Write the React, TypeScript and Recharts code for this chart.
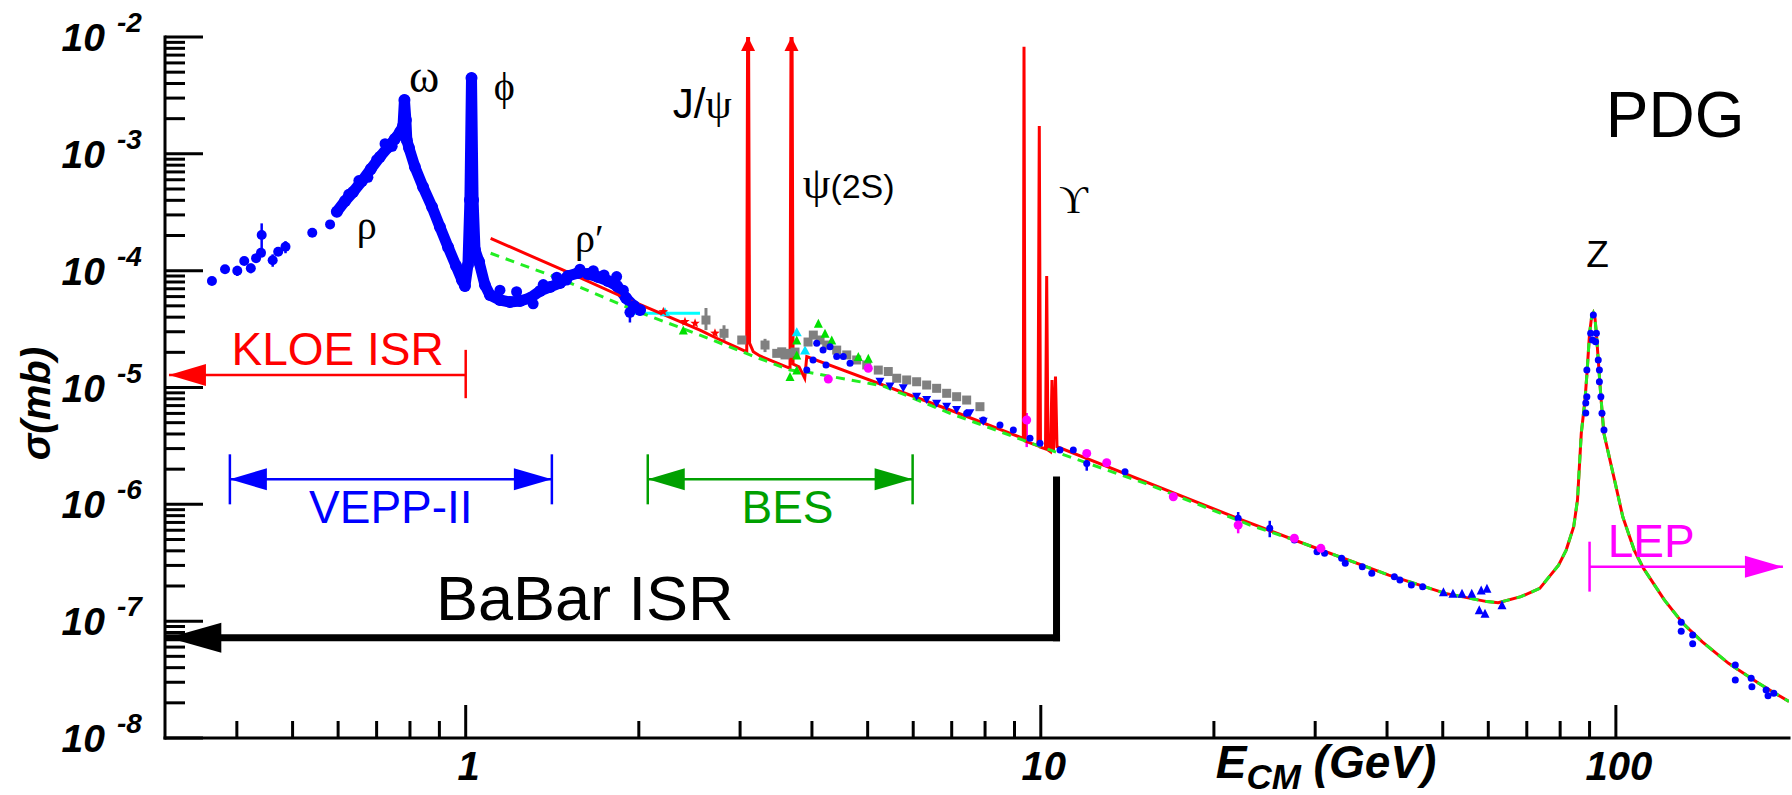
import React from 'react';
import {
  ComposedChart,
  Line,
  Scatter,
  XAxis,
  YAxis,
  ReferenceLine,
  ReferenceDot,
  ErrorBar,
} from 'recharts';

// ---------------------------------------------------------------------------
// Axes
// ---------------------------------------------------------------------------
const CHART_W = 1792;
const CHART_H = 795;

const E_DOMAIN: [number, number] = [0.3, 200]; // GeV
const SIGMA_DOMAIN: [number, number] = [1e-8, 1e-2]; // mb

const X_TICKS = [
  0.4, 0.5, 0.6, 0.7, 0.8, 0.9, 1, 2, 3, 4, 5, 6, 7, 8, 9, 10, 20, 30, 40, 50, 60, 70, 80, 90, 100,
];
const X_TICK_LABELS: Record<string, string> = { '1': '1', '10': '10', '100': '100' };
const Y_DECADES = [-8, -7, -6, -5, -4, -3];
const Y_MANTISSAS = [1, 2, 3, 4, 5, 6, 7, 8, 9];
const Y_TOP = 1e-2;
const Y_TICKS = [...Y_DECADES.flatMap((d) => Y_MANTISSAS.map((m) => m * Math.pow(10, d))), Y_TOP];

// ---------------------------------------------------------------------------
// Data: [E (GeV), sigma (mb), err-, err+]
// ---------------------------------------------------------------------------
type Row = number[];

// rho / omega / phi / rho' region (dense hadronic data)
const LOW_E_BAND: Row[] = [
  [0.597, 3.2e-4], [0.617, 3.95e-4], [0.637, 4.71e-4], [0.66, 5.85e-4], [0.684, 7.42e-4],
  [0.709, 9.4e-4], [0.733, 1.14e-3], [0.753, 1.34e-3], [0.769, 1.54e-3], [0.778, 1.73e-3],
  [0.7825, 2.89e-3], [0.787, 1.95e-3], [0.79, 1.31e-3], [0.797, 1.12e-3],
  [0.816, 7.72e-4], [0.843, 5.2e-4], [0.874, 3.51e-4], [0.902, 2.36e-4], [0.932, 1.59e-4],
  [0.962, 1.1e-4], [0.985, 8.32e-5], [0.997, 7.39e-5],
  [1.009, 1.12e-4], [1.017, 4.02e-4], [1.0235, 4.46e-3], [1.03, 4.02e-4], [1.038, 1.5e-4],
  [1.055, 1.19e-4], [1.08, 7.54e-5], [1.102, 6.19e-5],
  [1.147, 5.61e-5], [1.194, 5.39e-5], [1.243, 5.5e-5], [1.294, 5.83e-5], [1.347, 6.7e-5],
  [1.402, 7.25e-5], [1.459, 7.84e-5], [1.506, 9.0e-5], [1.568, 9.55e-5], [1.632, 9.36e-5],
  [1.699, 8.82e-5], [1.768, 8.16e-5], [1.833, 7.39e-5], [1.9, 5.83e-5], [1.962, 4.98e-5],
  [2.01, 4.61e-5],
];

// scattered measurements along the edges of the dense band
const LOW_E_SCATTER: Row[] = [
  [0.626, 4.5e-4], [0.652, 5.9e-4], [0.676, 6.3e-4], [0.7, 8.9e-4], [0.724, 1.22e-3],
  [0.745, 1.16e-3], [1.147, 6.8e-5], [1.226, 6.6e-5], [1.31, 5.2e-5], [1.364, 7.6e-5],
  [1.44, 8.8e-5], [1.498, 8.3e-5], [1.58, 1.03e-4], [1.667, 1.0e-4], [1.74, 9.2e-5],
  [1.83, 8.9e-5], [1.88, 6.8e-5], [1.93, 4.4e-5, 8e-6, 6e-6],
];

// isolated low-energy points
const LOW_E_POINTS: Row[] = [
  [0.362, 8.16e-5, 6e-6], [0.3815, 1.03e-4], [0.4007, 1.0e-4, 1.0e-5], [0.412, 1.21e-4],
  [0.423, 1.05e-4, 1.0e-5], [0.432, 1.28e-4], [0.4406, 1.42e-4], [0.4418, 2.02e-4, 6.0e-5, 5.2e-5],
  [0.4617, 1.23e-4, 1.5e-5], [0.472, 1.45e-4], [0.486, 1.6e-4, 1.9e-5], [0.541, 2.11e-4],
  [0.581, 2.49e-4],
];

// QCD expectation with narrow resonances (solid)
const RED_CURVE: Row[] = [
  [1.105, 1.89e-4], [1.478, 1.01e-4], [1.956, 5.42e-5], [2.555, 3.1e-5], [2.732, 2.64e-5],
  [3.081, 2.02e-5], [3.097, 3e-1], [3.116, 2.4e-5], [3.163, 2.02e-5], [3.249, 1.86e-5],
  [3.664, 1.46e-5], [3.686, 3e-1], [3.709, 1.59e-5], [3.799, 1.5e-5], [3.886, 1.2e-5],
  [3.918, 1.84e-5], [6.953, 6.42e-6], [9.324, 3.67e-6], [9.35, 8.26e-3], [9.387, 3.48e-6],
  [9.888, 3.16e-6], [9.94, 1.73e-3], [9.988, 3.09e-6], [10.19, 2.98e-6], [10.239, 9.0e-5],
  [10.292, 2.92e-6], [10.396, 2.82e-6], [10.459, 1.16e-5], [10.522, 2.92e-6], [10.606, 1.24e-5],
  [10.67, 3.11e-6], [22.0, 7.59e-7], [27.6, 4.95e-7], [40.28, 2.48e-7], [50.52, 1.73e-7],
  [59.67, 1.47e-7], [62.43, 1.44e-7], [68.37, 1.62e-7], [73.74, 1.91e-7], [79.5, 3.02e-7],
  [81.95, 4.06e-7], [84.46, 6.43e-7], [85.75, 1.09e-6], [87.06, 4.05e-6], [88.36, 7.81e-6],
  [89.07, 1.32e-5], [90.0, 2.91e-5], [90.69, 3.93e-5], [91.38, 4.32e-5], [91.96, 3.93e-5],
  [92.49, 2.91e-5], [93.19, 1.72e-5], [94.17, 8.34e-6], [95.31, 4.05e-6], [99.76, 1.51e-6],
  [102.8, 7.83e-7], [107.6, 4.06e-7], [111.7, 2.83e-7], [121.4, 1.52e-7], [130.9, 9.53e-8],
  [141.2, 6.68e-8], [157.0, 4.36e-8], [177.1, 2.94e-8], [200, 2.05e-8],
];

// naive quark-parton model (dashed)
const GREEN_CURVE: Row[] = [
  [1.105, 1.41e-4], [1.478, 8.32e-5], [1.956, 4.61e-5], [2.555, 2.81e-5], [3.122, 1.9e-5],
  [3.664, 1.41e-5], [3.906, 1.36e-5], [5.322, 1.03e-5], [6.953, 6.01e-6], [10.375, 2.92e-6],
  [15.48, 1.46e-6], [23.11, 6.65e-7], [27.6, 4.95e-7], [40.28, 2.48e-7], [50.52, 1.73e-7],
  [59.67, 1.47e-7], [62.43, 1.44e-7], [68.37, 1.62e-7], [73.74, 1.91e-7], [79.5, 3.02e-7],
  [81.95, 4.06e-7], [84.46, 6.43e-7], [85.75, 1.09e-6], [87.06, 4.05e-6], [88.36, 7.81e-6],
  [89.07, 1.32e-5], [90.0, 2.91e-5], [90.69, 3.93e-5], [91.38, 4.32e-5], [91.96, 3.93e-5],
  [92.49, 2.91e-5], [93.19, 1.72e-5], [94.17, 8.34e-6], [95.31, 4.05e-6], [99.76, 1.51e-6],
  [102.8, 7.83e-7], [107.6, 4.06e-7], [111.7, 2.83e-7], [121.4, 1.52e-7], [130.9, 9.53e-8],
  [141.2, 6.68e-8], [157.0, 4.36e-8], [177.1, 2.94e-8], [200, 2.05e-8],
];

const GRAY_MARKS: Row[] = [
  [2.617, 3.78e-5, 6.8e-6, 1.01e-5], [2.813, 2.91e-5, 4e-6, 5e-6], [3.02, 2.55e-5],
  [3.315, 2.31e-5, 3e-6, 3e-6], [3.474, 1.96e-5], [3.544, 2.02e-5], [3.591, 1.9e-5],
  [3.639, 1.96e-5], [3.738, 2.01e-5], [3.938, 2.45e-5], [4.022, 2.81e-5], [4.132, 2.55e-5],
  [4.244, 2.31e-5], [4.417, 2.09e-5], [4.598, 1.9e-5], [4.785, 1.72e-5], [4.981, 1.56e-5],
  [5.217, 1.41e-5], [5.43, 1.37e-5], [5.616, 1.2e-5], [5.845, 1.16e-5], [6.083, 1.12e-5],
  [6.332, 1.05e-5], [6.59, 9.84e-6], [6.86, 8.92e-6], [7.139, 8.34e-6], [7.432, 7.81e-6],
  [7.838, 6.85e-6],
];

const CYAN_LINE: Row[] = [[1.954, 4.32e-5], [2.555, 4.32e-5]];
const CYAN_MARKS: Row[] = [[2.221, 4.45e-5], [3.764, 3.0e-5], [3.891, 2.09e-5]];

const RED_STARS: Row[] = [[2.206, 4.45e-5], [2.406, 3.66e-5], [2.505, 3.54e-5], [2.713, 2.91e-5]];

const GREEN_MARKS: Row[] = [
  [2.39, 3.1e-5], [3.664, 1.24e-5], [3.764, 2.55e-5], [3.764, 1.9e-5], [3.764, 1.41e-5],
  [4.104, 3.54e-5], [4.215, 2.91e-5], [4.33, 2.55e-5], [4.816, 1.84e-5], [5.013, 1.78e-5],
];

const BLUE_TRI_DOWN: Row[] = [
  [5.252, 1.12e-5], [5.467, 1.02e-5], [5.766, 9.84e-6], [6.083, 8.34e-6], [6.332, 7.81e-6],
  [6.59, 7.27e-6], [6.86, 6.85e-6], [7.139, 6.42e-6], [7.53, 6.01e-6], [7.943, 5.09e-6],
];

const BLUE_TRI_UP: Row[] = [
  [50.13, 1.79e-7], [52.08, 1.73e-7], [54.0, 1.73e-7], [56.16, 1.73e-7], [58.32, 1.85e-7],
  [59.67, 1.91e-7], [57.87, 1.25e-7], [59.21, 1.17e-7], [63.38, 1.38e-7],
];

const BLUE_POINTS: Row[] = [
  [3.918, 1.41e-5], [4.018, 1.72e-5], [4.077, 2.39e-5], [4.182, 2.09e-5], [4.232, 1.56e-5],
  [4.3, 2.23e-5], [4.417, 1.84e-5], [4.535, 1.84e-5], [4.659, 1.61e-5],
  [7.432, 6.01e-6], [7.943, 5.27e-6], [8.493, 4.77e-6], [8.959, 4.33e-6], [9.577, 3.67e-6],
  [9.968, 3.33e-6], [10.8, 2.92e-6], [11.39, 2.92e-6], [12.02, 2.24e-6, 3e-7], [14.01, 1.9e-6],
  [22.04, 7.59e-7, 1e-7], [25.01, 6.23e-7, 1e-7], [27.6, 4.95e-7], [30.22, 3.93e-7],
  [31.15, 3.81e-7], [33.35, 3.45e-7], [33.84, 3.13e-7], [36.23, 2.92e-7], [37.63, 2.57e-7],
  [41.19, 2.4e-7], [42.12, 2.25e-7], [44.09, 2.04e-7], [46.13, 1.97e-7],
  [88.64, 7.37e-6], [88.64, 6.05e-6], [89.03, 1.41e-5], [89.03, 8.34e-6], [90.4, 2.91e-5],
  [91.09, 2.55e-5], [91.38, 4.17e-5], [92.19, 2.46e-5], [92.49, 2.91e-5], [93.19, 1.72e-5],
  [93.61, 1.41e-5], [93.61, 1.12e-5], [94.17, 8.34e-6], [94.59, 6.01e-6], [95.35, 4.33e-6],
  [129.9, 9.8e-8], [129.9, 8.2e-8], [136.0, 7.6e-8], [136.0, 6.4e-8], [161.3, 4.21e-8],
  [161.3, 3.14e-8], [171.9, 3.24e-8], [172.4, 2.75e-8], [182.5, 2.58e-8], [183.9, 2.3e-8],
  [188.2, 2.41e-8],
];

const MAGENTA_MARKS: Row[] = [
  [4.271, 1.18e-5], [5.013, 1.46e-5], [9.452, 5.27e-6, 2.18e-6, 7.8e-7], [12.02, 2.73e-6],
  [13.02, 2.27e-6], [17.0, 1.16e-6], [22.04, 6.65e-7, 1e-7], [27.6, 5.12e-7], [30.69, 4.2e-7],
];

// narrow resonances that run off the top of the frame
const OFF_SCALE_PEAKS = [3.097, 3.686];

// experiment coverage brackets
const KLOE_ISR = { lo: 0.3048, hi: 1.0, sigma: 1.28e-5, barLo: 8.1e-6, barHi: 2.1e-5 };
const VEPP_II = { lo: 0.389, hi: 1.412, sigma: 1.64e-6, barLo: 1.0e-6, barHi: 2.68e-6 };
const BES_RANGE = { lo: 2.073, hi: 5.986, sigma: 1.64e-6, barLo: 1.0e-6, barHi: 2.68e-6 };
const BABAR_ISR = { lo: 0.304, hi: 10.65, sigma: 7.22e-8, top: 1.615e-6 };
const LEP_RANGE = { lo: 90.0, hi: 195.2, sigma: 2.92e-7, barLo: 1.79e-7, barHi: 4.79e-7 };

// ---------------------------------------------------------------------------
// Styling helpers
// ---------------------------------------------------------------------------
const SANS = '"Liberation Sans", Arial, Helvetica, sans-serif';
const SERIF = '"Liberation Serif", "DejaVu Serif", "Times New Roman", serif';
const BOLD_ITALIC = { fontFamily: SANS, fontWeight: 700, fontStyle: 'italic' as const };
const AXIS_LINE = { stroke: '#000', strokeWidth: 3, strokeLinecap: 'square' as const };

const toPts = (rows: Row[]) =>
  rows.map(([E, s, lo = 0, hi]) => ({ E, s, err: [lo, hi ?? lo] }));

const isDecade = (v: number) => {
  const l = Math.log10(v);
  return Math.abs(l - Math.round(l)) < 1e-9;
};

function XTickBottom(p: any) {
  const major = isDecade(p.payload.value);
  const label = X_TICK_LABELS[String(p.payload.value)];
  return (
    <g>
      <line x1={p.x} x2={p.x} y1={p.y} y2={p.y - (major ? 33 : 17)} stroke="#000" strokeWidth={3} />
      {label && (
        <text x={p.x + 3} y={p.y + 42} textAnchor="middle" fontSize={40} fill="#000" {...BOLD_ITALIC}>
          {label}
        </text>
      )}
    </g>
  );
}

function XTickTop(p: any) {
  const major = isDecade(p.payload.value);
  return <line x1={p.x} x2={p.x} y1={p.y} y2={p.y + (major ? 33 : 17)} stroke="#000" strokeWidth={3} />;
}

function YTickLeft(p: any) {
  const v = p.payload.value;
  const major = isDecade(v);
  return (
    <g>
      <line x1={p.x} x2={p.x + (major ? 38 : 20)} y1={p.y} y2={p.y} stroke="#000" strokeWidth={3} />
      {major && (
        <g fill="#000" {...BOLD_ITALIC}>
          <text x={p.x - 60} y={p.y + 14} textAnchor="end" fontSize={39}>10</text>
          <text x={p.x - 48} y={p.y - 5} textAnchor="start" fontSize={28}>
            {`-${Math.abs(Math.round(Math.log10(v)))}`}
          </text>
        </g>
      )}
    </g>
  );
}

function YTickRight(p: any) {
  const major = isDecade(p.payload.value);
  return <line x1={p.x} x2={p.x - (major ? 38 : 20)} y1={p.y} y2={p.y} stroke="#000" strokeWidth={3} />;
}

const XTitle = (p: any) => {
  const { x, y, width } = p.viewBox;
  return (
    <text x={x + width * 0.647} y={y + 40} fontSize={46} fill="#000" {...BOLD_ITALIC}>
      E
      <tspan fontSize={35} dy={11}>CM</tspan>
      <tspan dy={-11}> (GeV)</tspan>
    </text>
  );
};

const YTitle = (p: any) => {
  const { x, y, height } = p.viewBox;
  const cx = x + 36;
  const cy = y + height * 0.523;
  return (
    <text
      transform={`translate(${cx},${cy}) rotate(-90)`}
      textAnchor="middle"
      dominantBaseline="central"
      fontSize={40}
      fill="#000"
      {...BOLD_ITALIC}
    >
      σ(mb)
    </text>
  );
};

const dot = (fill: string, r: number) => (p: any) => <circle cx={p.cx} cy={p.cy} r={r} fill={fill} />;
const square = (fill: string, size: number) => (p: any) => (
  <rect x={p.cx - size / 2} y={p.cy - size / 2} width={size} height={size} fill={fill} />
);
const triangle = (fill: string, w: number, h: number, down = false) => (p: any) => {
  const { cx, cy } = p;
  const pts = down
    ? `${cx - w / 2},${cy - h / 2} ${cx + w / 2},${cy - h / 2} ${cx},${cy + h / 2}`
    : `${cx - w / 2},${cy + h / 2} ${cx + w / 2},${cy + h / 2} ${cx},${cy - h / 2}`;
  return <polygon points={pts} fill={fill} />;
};
const star = (fill: string, r: number) => (p: any) => {
  const pts: string[] = [];
  for (let i = 0; i < 10; i++) {
    const rr = i % 2 === 0 ? r : r * 0.42;
    const a = -Math.PI / 2 + (i * Math.PI) / 5;
    pts.push(`${p.cx + rr * Math.cos(a)},${p.cy + rr * Math.sin(a)}`);
  }
  return <polygon points={pts.join(' ')} fill={fill} />;
};

const arrowHead = (dir: 'left' | 'right' | 'up', len: number, half: number, fill: string) => (p: any) => {
  const { cx, cy } = p;
  let pts = '';
  if (dir === 'left') pts = `${cx},${cy} ${cx + len},${cy - half} ${cx + len},${cy + half}`;
  else if (dir === 'right') pts = `${cx},${cy} ${cx - len},${cy - half} ${cx - len},${cy + half}`;
  else pts = `${cx},${cy} ${cx - half},${cy + len} ${cx + half},${cy + len}`;
  return <polygon points={pts} fill={fill} />;
};

const textAt = (content: React.ReactNode, props: Record<string, any>) => (p: any) => (
  <text x={p.cx} y={p.cy} {...props}>
    {content}
  </text>
);

// text labels anchored in (E, sigma)
const SANS_NOTES = [
  { text: 'KLOE ISR', E: 0.3915, s: 1.56e-5, color: '#ff0000', size: 46, anchor: 'start' },
  { text: 'VEPP-II', E: 0.741, s: 6.92e-7, color: '#0000ff', size: 46, anchor: 'middle' },
  { text: 'BES', E: 3.627, s: 6.92e-7, color: '#00a000', size: 46, anchor: 'middle' },
  { text: 'BaBar ISR', E: 0.8878, s: 1.023e-7, color: '#000000', size: 63, anchor: 'start' },
  { text: 'LEP', E: 96.77, s: 3.56e-7, color: '#ff00ff', size: 46, anchor: 'start' },
  { text: 'PDG', E: 96.03, s: 1.401e-3, color: '#000000', size: 64, anchor: 'start' },
  { text: 'Z', E: 92.89, s: 1.081e-4, color: '#000000', size: 37, anchor: 'middle' },
];

const GREEK_NOTES = [
  { text: 'ω', E: 0.8463, s: 3.4e-3, size: 46, anchor: 'middle' },
  { text: 'ϕ', E: 1.1667, s: 2.89e-3, size: 40, anchor: 'middle' },
  { text: 'ρ', E: 0.6725, s: 1.866e-4, size: 40, anchor: 'middle' },
  { text: 'ρ′', E: 1.5489, s: 1.444e-4, size: 40, anchor: 'start' },
  { text: 'ϒ', E: 10.755, s: 3.114e-4, size: 40, anchor: 'start' },
];

const JPSI_NOTE = { E: 2.2906, s: 2.026e-3 };
const PSI2S_NOTE = { E: 3.857, s: 4.19e-4 };

// ---------------------------------------------------------------------------
export default function App() {
  const bracket = (
    key: string,
    r: { lo: number; hi: number; sigma: number; barLo: number; barHi: number },
    color: string,
    arrows: { left?: boolean; right?: boolean; barLeft?: boolean; barRight?: boolean },
  ) => [
    <ReferenceLine
      key={`${key}-h`}
      segment={[{ x: r.lo, y: r.sigma }, { x: r.hi, y: r.sigma }]}
      stroke={color}
      strokeWidth={2.5}
      ifOverflow="visible"
    />,
    arrows.barLeft && (
      <ReferenceLine
        key={`${key}-bl`}
        segment={[{ x: r.lo, y: r.barLo }, { x: r.lo, y: r.barHi }]}
        stroke={color}
        strokeWidth={2.5}
        ifOverflow="visible"
      />
    ),
    arrows.barRight && (
      <ReferenceLine
        key={`${key}-br`}
        segment={[{ x: r.hi, y: r.barLo }, { x: r.hi, y: r.barHi }]}
        stroke={color}
        strokeWidth={2.5}
        ifOverflow="visible"
      />
    ),
    arrows.left && (
      <ReferenceDot key={`${key}-al`} x={r.lo} y={r.sigma} ifOverflow="visible" shape={arrowHead('left', 37, 11, color)} />
    ),
    arrows.right && (
      <ReferenceDot key={`${key}-ar`} x={r.hi} y={r.sigma} ifOverflow="visible" shape={arrowHead('right', 38, 11, color)} />
    ),
  ];

  return (
    <div style={{ position: 'absolute', left: 0, top: 0, width: CHART_W, height: CHART_H, background: '#fff' }}>
      <ComposedChart width={CHART_W} height={CHART_H} margin={{ top: 37, right: 3, bottom: 0, left: 0 }}>
        <XAxis
          dataKey="E"
          type="number"
          scale="log"
          domain={E_DOMAIN}
          allowDataOverflow
          ticks={X_TICKS}
          interval={0}
          height={57}
          tickSize={0}
          tickMargin={0}
          tickLine={false}
          axisLine={AXIS_LINE}
          tick={XTickBottom}
          label={{ content: XTitle }}
        />
        <XAxis
          xAxisId="top"
          orientation="top"
          dataKey="E"
          type="number"
          scale="log"
          domain={E_DOMAIN}
          allowDataOverflow
          ticks={X_TICKS}
          interval={0}
          height={0}
          tickSize={0}
          tickMargin={0}
          tickLine={false}
          axisLine={AXIS_LINE}
          tick={XTickTop}
        />
        <YAxis
          dataKey="s"
          type="number"
          scale="log"
          domain={SIGMA_DOMAIN}
          allowDataOverflow
          ticks={Y_TICKS}
          interval={0}
          width={165}
          tickSize={0}
          tickMargin={0}
          tickLine={false}
          axisLine={AXIS_LINE}
          tick={YTickLeft}
          label={{ content: YTitle }}
        />
        <YAxis
          yAxisId="right"
          orientation="right"
          dataKey="s"
          type="number"
          scale="log"
          domain={SIGMA_DOMAIN}
          allowDataOverflow
          ticks={Y_TICKS}
          interval={0}
          width={0}
          tickSize={0}
          tickMargin={0}
          tickLine={false}
          axisLine={AXIS_LINE}
          tick={YTickRight}
        />

        {/* hadronic data below 2 GeV */}
        <Line
          data={toPts(LOW_E_BAND)}
          dataKey="s"
          type="linear"
          stroke="#0000ff"
          strokeWidth={11}
          strokeLinejoin="round"
          strokeLinecap="round"
          dot={{ r: 6, fill: '#0000ff', stroke: 'none' }}
          isAnimationActive={false}
        />
        <Scatter data={toPts(LOW_E_SCATTER)} dataKey="s" shape={dot('#0000ff', 5.5)} isAnimationActive={false}>
          <ErrorBar dataKey="err" direction="y" width={0} stroke="#0000ff" strokeWidth={2.5} />
        </Scatter>
        <Scatter data={toPts(LOW_E_POINTS)} dataKey="s" shape={dot('#0000ff', 5)} isAnimationActive={false}>
          <ErrorBar dataKey="err" direction="y" width={0} stroke="#0000ff" strokeWidth={2.5} />
        </Scatter>

        <Line
          data={toPts(CYAN_LINE)}
          dataKey="s"
          type="linear"
          stroke="#00ffff"
          strokeWidth={3}
          dot={false}
          isAnimationActive={false}
        />
        <Scatter data={toPts(CYAN_MARKS)} dataKey="s" shape={triangle('#00e5ff', 10, 9)} isAnimationActive={false} />

        <Scatter data={toPts(GRAY_MARKS)} dataKey="s" shape={square('#808080', 9)} isAnimationActive={false}>
          <ErrorBar dataKey="err" direction="y" width={0} stroke="#808080" strokeWidth={3} />
        </Scatter>
        <Scatter data={toPts(GREEN_MARKS)} dataKey="s" shape={triangle('#00e000', 9, 9)} isAnimationActive={false} />
        <Scatter data={toPts(RED_STARS)} dataKey="s" shape={star('#ff0000', 5)} isAnimationActive={false} />
        <Scatter data={toPts(BLUE_TRI_DOWN)} dataKey="s" shape={triangle('#0000ff', 9, 8, true)} isAnimationActive={false} />
        <Scatter data={toPts(BLUE_TRI_UP)} dataKey="s" shape={triangle('#0000ff', 9, 9)} isAnimationActive={false} />
        <Scatter data={toPts(BLUE_POINTS)} dataKey="s" shape={dot('#0000ff', 3.5)} isAnimationActive={false}>
          <ErrorBar dataKey="err" direction="y" width={0} stroke="#0000ff" strokeWidth={2.5} />
        </Scatter>
        <Scatter data={toPts(MAGENTA_MARKS)} dataKey="s" shape={dot('#ff00ff', 4.5)} isAnimationActive={false}>
          <ErrorBar dataKey="err" direction="y" width={0} stroke="#ff00ff" strokeWidth={2.5} />
        </Scatter>

        {/* model curves */}
        <Line
          data={toPts(RED_CURVE)}
          dataKey="s"
          type="linear"
          stroke="#ff0000"
          strokeWidth={3}
          dot={false}
          isAnimationActive={false}
        />
        <Line
          data={toPts(GREEN_CURVE)}
          dataKey="s"
          type="linear"
          stroke="#22ee22"
          strokeWidth={3}
          strokeDasharray="9 7"
          dot={false}
          isAnimationActive={false}
        />

        {OFF_SCALE_PEAKS.map((E) => (
          <ReferenceDot key={`peak-${E}`} x={E} y={Y_TOP} ifOverflow="visible" shape={arrowHead('up', 14, 7, '#ff0000')} />
        ))}

        {/* experiment coverage */}
        {bracket('kloe', KLOE_ISR, '#ff0000', { left: true, barRight: true })}
        {bracket('vepp', VEPP_II, '#0000ff', { left: true, right: true, barLeft: true, barRight: true })}
        {bracket('bes', BES_RANGE, '#00a000', { left: true, right: true, barLeft: true, barRight: true })}
        {bracket('lep', LEP_RANGE, '#ff00ff', { right: true, barLeft: true })}
        <ReferenceLine
          segment={[{ x: BABAR_ISR.lo, y: BABAR_ISR.sigma }, { x: BABAR_ISR.hi, y: BABAR_ISR.sigma }]}
          stroke="#000"
          strokeWidth={7}
          strokeLinecap="square"
          ifOverflow="visible"
        />
        <ReferenceLine
          segment={[{ x: BABAR_ISR.hi, y: BABAR_ISR.sigma }, { x: BABAR_ISR.hi, y: BABAR_ISR.top }]}
          stroke="#000"
          strokeWidth={7}
          strokeLinecap="square"
          ifOverflow="visible"
        />
        <ReferenceDot x={BABAR_ISR.lo} y={BABAR_ISR.sigma} ifOverflow="visible" shape={arrowHead('left', 53, 15, '#000')} />

        {/* labels */}
        {SANS_NOTES.map((n) => (
          <ReferenceDot
            key={`note-${n.text}`}
            x={n.E}
            y={n.s}
            ifOverflow="visible"
            shape={textAt(n.text, { fontFamily: SANS, fontSize: n.size, fill: n.color, textAnchor: n.anchor })}
          />
        ))}
        {GREEK_NOTES.map((n) => (
          <ReferenceDot
            key={`greek-${n.text}`}
            x={n.E}
            y={n.s}
            ifOverflow="visible"
            shape={textAt(n.text, { fontFamily: SERIF, fontSize: n.size, fill: '#000', textAnchor: n.anchor })}
          />
        ))}
        <ReferenceDot
          x={JPSI_NOTE.E}
          y={JPSI_NOTE.s}
          ifOverflow="visible"
          shape={textAt(
            <>
              <tspan fontFamily={SANS}>J/</tspan>
              <tspan fontFamily={SERIF}>ψ</tspan>
            </>,
            { fontSize: 42, fill: '#000' },
          )}
        />
        <ReferenceDot
          x={PSI2S_NOTE.E}
          y={PSI2S_NOTE.s}
          ifOverflow="visible"
          shape={textAt(
            <>
              <tspan fontFamily={SERIF} fontSize={44}>ψ</tspan>
              <tspan fontFamily={SANS} fontSize={34}>(2S)</tspan>
            </>,
            { fill: '#000' },
          )}
        />
      </ComposedChart>
    </div>
  );
}
